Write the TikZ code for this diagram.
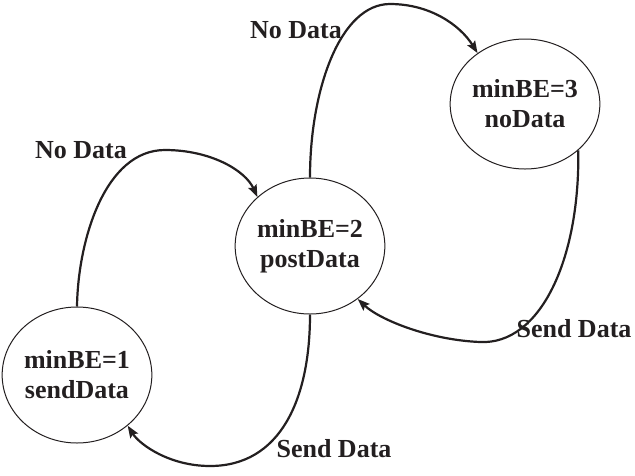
\documentclass[tikz,border=0pt]{standalone}
\usepackage{fontspec}
\setmainfont{Liberation Serif}
\usetikzlibrary{shapes.geometric,arrows.meta}
\definecolor{ink}{RGB}{35,31,32}
\begin{document}
\begin{tikzpicture}[x=1pt,y=-1pt,
  state/.style={draw=ink,line width=1pt,ellipse,inner sep=0pt,
    minimum width=148pt,minimum height=136pt,align=center,
    font=\fontsize{26pt}{30pt}\selectfont\bfseries,text=ink},
  lbl/.style={font=\fontsize{26pt}{30pt}\selectfont\bfseries,text=ink,inner sep=0pt},
  trans/.style={draw=ink,line width=2.2pt,
    -{Stealth[length=12pt,width=9pt,inset=2pt]}}]
\useasboundingbox (0,0) rectangle (635,475);

% states
\node[state] (s1) at (77,375) {minBE=1\\sendData};
\node[state] (s2) at (310,246) {minBE=2\\postData};
\node[state,minimum width=146pt,minimum height=130pt] (s3) at (525,104) {minBE=3\\noData};

% transitions
\draw[trans] (s1.90) .. controls (78,240) and (105,150) .. (165,150)
  .. controls (210,150) and (245,170) .. (s2.137);
\draw[trans] (s2.90) .. controls (310,90) and (340,4) .. (390,4)
  .. controls (430,4) and (460,25) .. (s3.133);
\draw[trans] (s3.-41) .. controls (580,260) and (540,345) .. (480,342)
  .. controls (430,340) and (380,320) .. (s2.-48);
\draw[trans] (s2.270) .. controls (310,400) and (280,466) .. (210,466)
  .. controls (170,466) and (140,445) .. (s1.-45);

% labels
\node[lbl] (l1) at (81,150) {No Data};
\node[lbl] (l2) at (296,30) {No Data};
\node[lbl] (l3) at (574,329) {Send Data};
\node[lbl] (l4) at (334,449) {Send Data};
\end{tikzpicture}
\end{document}
